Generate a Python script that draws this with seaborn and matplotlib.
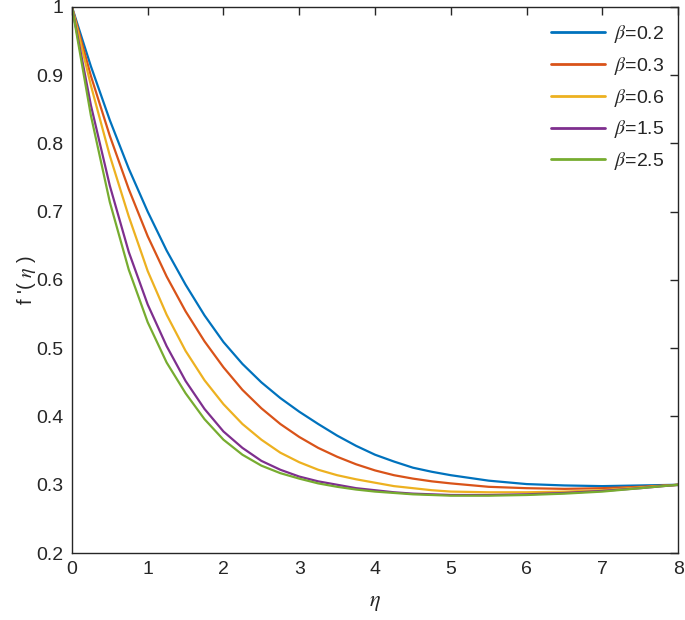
import numpy as np
import pandas as pd
import matplotlib
matplotlib.use("Agg")
import matplotlib.pyplot as plt
import seaborn as sns

# values
eta = [0, 0.25, 0.5, 0.75, 1.0, 1.25, 1.5, 1.75, 2.0, 2.25, 2.5, 2.75, 3.0, 3.25, 3.5,
       3.75, 4.0, 4.25, 4.5, 4.75, 5.0, 5.5, 6.0, 6.5, 7.0, 7.5, 8.0]
beta_02 = [1.0, 0.913, 0.834, 0.763, 0.700, 0.643, 0.593, 0.548, 0.509, 0.477, 0.450, 0.427,
           0.407, 0.389, 0.372, 0.357, 0.344, 0.334, 0.325, 0.319, 0.314, 0.306, 0.301,
           0.299, 0.298, 0.299, 0.300]
beta_03 = [1.0, 0.899, 0.811, 0.733, 0.664, 0.605, 0.554, 0.510, 0.472, 0.439, 0.412, 0.389,
           0.370, 0.354, 0.341, 0.330, 0.321, 0.314, 0.309, 0.305, 0.302, 0.297, 0.295,
           0.294, 0.295, 0.297, 0.300]
beta_06 = [1.0, 0.885, 0.782, 0.693, 0.613, 0.549, 0.496, 0.453, 0.418, 0.389, 0.366, 0.347,
           0.333, 0.322, 0.314, 0.308, 0.303, 0.298, 0.295, 0.292, 0.290, 0.289, 0.289,
           0.290, 0.292, 0.296, 0.300]
beta_15 = [1.0, 0.856, 0.738, 0.641, 0.564, 0.503, 0.452, 0.411, 0.378, 0.354, 0.335, 0.322,
           0.312, 0.305, 0.300, 0.295, 0.292, 0.289, 0.287, 0.286, 0.285, 0.285, 0.286,
           0.288, 0.291, 0.295, 0.300]
beta_25 = [1.0, 0.841, 0.714, 0.615, 0.538, 0.479, 0.434, 0.396, 0.366, 0.344, 0.328, 0.317,
           0.309, 0.302, 0.297, 0.293, 0.290, 0.288, 0.286, 0.285, 0.284, 0.284, 0.285,
           0.287, 0.290, 0.295, 0.300]
labels = [r"$\beta$=0.2", r"$\beta$=0.3", r"$\beta$=0.6", r"$\beta$=1.5", r"$\beta$=2.5"]
colors = ["#0072BD", "#D95319", "#EDB120", "#7E2F8E", "#77AC30"]

series = [beta_02, beta_03, beta_06, beta_15, beta_25]
df = pd.concat([pd.DataFrame({"eta": eta, "fp": s, "beta": lab})
                for s, lab in zip(series, labels)], ignore_index=True)

sns.set_style("white")
plt.rcParams["font.family"] = ["Liberation Sans", "DejaVu Sans"]
plt.rcParams["mathtext.fontset"] = "stix"

fig = plt.figure(figsize=(6.85, 6.2), dpi=100)
ax = fig.add_axes([0.105, 0.108, 0.885, 0.881])

sns.lineplot(data=df, x="eta", y="fp", hue="beta", hue_order=labels,
             palette=colors, linewidth=1.6, ax=ax)

ax.set_xlim(0, 8)
ax.set_ylim(0.2, 1.0)
ax.set_xticks(range(0, 9))
ax.set_yticks(np.arange(0.2, 1.01, 0.1))
ax.set_yticklabels(["0.2", "0.3", "0.4", "0.5", "0.6", "0.7", "0.8", "0.9", "1"])
ax.tick_params(direction="in", length=6, width=1, colors="#262626",
               labelsize=14, top=True, right=True, pad=6)
for sp in ax.spines.values():
    sp.set_color("#262626")
    sp.set_linewidth(1.0)

ax.set_xlabel(r"$\eta$", fontsize=16, color="#262626", labelpad=10)
ax.set_ylabel(r"f '( $\eta$ )", fontsize=14.5, color="#262626")
ax.yaxis.set_label_coords(-0.056, 0.5)

leg = ax.legend(loc="upper right", frameon=False, fontsize=14,
                handlelength=2.8, labelspacing=0.5, handletextpad=0.45,
                borderaxespad=0.3, bbox_to_anchor=(1.0, 0.995))
for line in leg.get_lines():
    line.set_linewidth(2.0)

fig.savefig("out.png", dpi=100)
